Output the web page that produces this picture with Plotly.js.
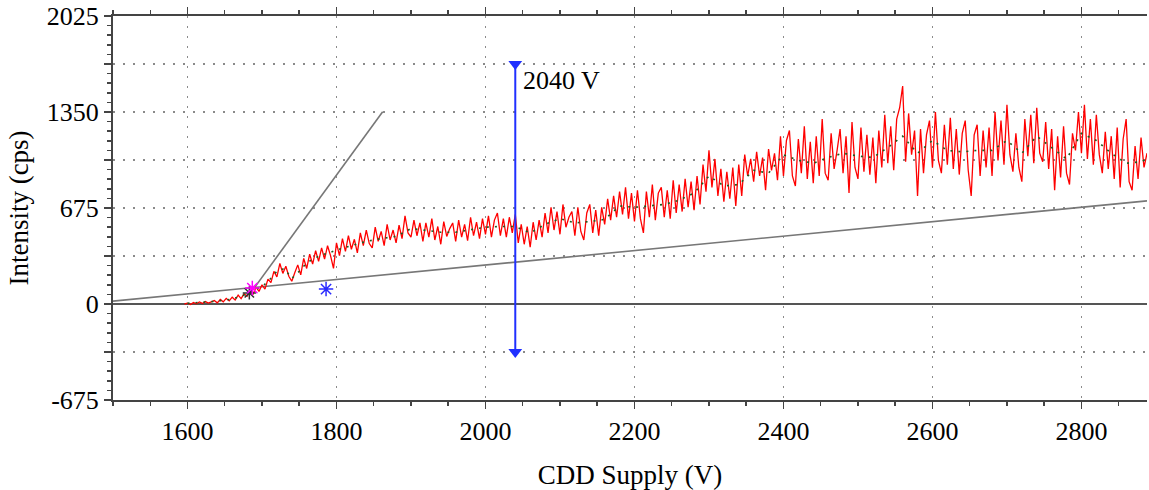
<!DOCTYPE html>
<html>
<head>
<meta charset="utf-8">
<script src="https://cdn.plot.ly/plotly-3.0.1.min.js"></script>
<style>html,body{margin:0;padding:0;background:#fff;}#chart{width:1149px;height:490px;}</style>
</head>
<body>
<div id="chart"></div>
<script>
// ---- data ----
const voltage = [
1596,1600,1604,1608,1612,1616,1620,1624,1628,1632,
1636,1640,1644,1648,1652,1656,1660,1664,1668,1672,
1676,1680,1684,1688,1692,1696,1700,1704,1708,1712,
1716,1720,1724,1728,1732,1736,1740,1744,1748,1752,
1756,1760,1764,1768,1772,1776,1780,1784,1788,1792,
1796,1800,1804,1808,1812,1816,1820,1824,1828,1832,
1836,1840,1844,1848,1852,1856,1860,1864,1868,1872,
1876,1880,1884,1888,1892,1896,1900,1904,1908,1912,
1916,1920,1924,1928,1932,1936,1940,1944,1948,1952,
1956,1960,1964,1968,1972,1976,1980,1984,1988,1992,
1996,2000,2004,2008,2012,2016,2020,2024,2028,2032,
2036,2040,2044,2048,2052,2056,2060,2064,2068,2072,
2076,2080,2084,2088,2092,2096,2100,2104,2108,2112,
2116,2120,2124,2128,2132,2136,2140,2144,2148,2152,
2156,2160,2164,2168,2172,2176,2180,2184,2188,2192,
2196,2200,2204,2208,2212,2216,2220,2224,2228,2232,
2236,2240,2244,2248,2252,2256,2260,2264,2268,2272,
2276,2280,2284,2288,2292,2296,2300,2304,2308,2312,
2316,2320,2324,2328,2332,2336,2340,2344,2348,2352,
2356,2360,2364,2368,2372,2376,2380,2384,2388,2392,
2396,2400,2404,2408,2412,2416,2420,2424,2428,2432,
2436,2440,2444,2448,2452,2456,2460,2464,2468,2472,
2476,2480,2484,2488,2492,2496,2500,2504,2508,2512,
2516,2520,2524,2528,2532,2536,2540,2544,2548,2552,
2556,2560,2564,2568,2572,2576,2580,2584,2588,2592,
2596,2600,2604,2608,2612,2616,2620,2624,2628,2632,
2636,2640,2644,2648,2652,2656,2660,2664,2668,2672,
2676,2680,2684,2688,2692,2696,2700,2704,2708,2712,
2716,2720,2724,2728,2732,2736,2740,2744,2748,2752,
2756,2760,2764,2768,2772,2776,2780,2784,2788,2792,
2796,2800,2804,2808,2812,2816,2820,2824,2828,2832,
2836,2840,2844,2848,2852,2856,2860,2864,2868,2872,
2876,2880,2884,2888];

const intensity = [
0,6,-4,10,1,14,4,17,6,13,
24,8,32,15,40,22,48,28,62,38,
72,55,90,70,118,88,135,105,175,150,
230,190,285,215,265,195,160,220,275,205,
320,250,350,280,375,300,395,315,410,340,
250,430,340,460,370,480,385,455,360,500,
410,520,425,395,540,440,510,410,560,450,
520,430,555,460,620,500,470,590,480,570,
440,570,470,600,450,545,420,580,475,530,
570,440,590,470,560,445,610,480,575,460,
600,490,620,470,590,640,480,600,470,610,
500,630,430,560,420,545,400,575,450,590,
470,640,500,680,520,650,490,700,540,610,
650,480,680,510,450,640,700,500,660,480,
680,560,740,590,760,610,790,630,820,600,
780,580,800,600,500,790,610,840,590,780,
820,610,800,600,870,640,840,650,880,680,
860,660,900,700,980,790,1080,820,1020,760,
950,720,930,740,960,690,980,760,1050,900,
1020,860,1070,900,1030,800,1090,940,1060,870,
1180,900,1150,1220,900,830,1160,920,1250,880,
1140,850,1180,900,1300,920,870,1200,950,1080,
1230,920,1180,780,1280,960,880,1240,930,1190,
910,1170,850,1220,960,1330,990,1250,940,1300,
1380,1533,1000,1340,1050,1220,760,1230,920,1190,
1290,960,1350,1010,920,1260,980,1310,950,1230,
910,1200,1290,940,760,1190,1260,900,1220,960,
1240,900,1350,1010,1290,980,1400,1050,930,1200,
960,860,1300,1040,1330,990,1380,1060,1000,1280,
950,1230,800,1180,890,1250,920,840,1200,1080,
1350,1060,1400,1020,1300,980,1330,1050,920,1210,
950,1180,880,1240,820,1160,1300,860,800,1110,
880,1170,960,1060];

// smoothed (dark green) curve
const smoothV = [1600,1620,1640,1660,1680,1690,1700,1710,1720,1730,1740,1750,1760,1770,1780,1790,1800,1820,1840,1860,1880,1900,1920,1940,1960,1980,2000,2020,2040,2060,2080,2100,2120,2140,2160,2180,2200,2220,2240,2260,2280,2300,2320,2340,2360,2380,2400,2420,2440,2460,2480,2500,2520,2540,2560,2580,2600,2620,2640,2660,2680,2700,2720,2740,2760,2780,2800,2820,2840,2860,2880,2888];
const smoothI = [5,10,20,35,70,100,120,170,230,250,180,230,290,320,345,360,380,410,440,460,475,530,515,505,505,525,540,545,545,500,560,600,570,580,595,690,680,690,700,730,780,900,830,840,940,920,1050,1010,990,1030,1060,1040,1030,1100,1180,1060,1150,1080,1070,1080,1080,1150,1060,1180,1100,1020,1200,1150,1060,990,1000,1020];

// straight fit lines (end points)
const fitLowV = [1500, 2888];
const fitLowI = [20, 725];
const fitHighV = [1690, 1862];
const fitHighI = [116, 1352];

// marker points
const onsetV = [1687];  const onsetI = [112];
const onset2V = [1683]; const onset2I = [78];
const blueV = [1786];   const blueI = [105];

// operating voltage arrow
const arrowV = [2040, 2040];
const arrowI = [-337.5, 1687.5];
const arrowLabel = '2040 V';

// axes
const xTickVals = [1600, 1800, 2000, 2200, 2400, 2600, 2800];
const xTickText = ['1600', '1800', '2000', '2200', '2400', '2600', '2800'];
const yTickVals = [-675, -337.5, 0, 337.5, 675, 1012.5, 1350, 1687.5, 2025];
const yTickText = ['-675', '', '0', '', '675', '', '1350', '', '2025'];
const xTitle = 'CDD Supply (V)';
const yTitle = 'Intensity (cps)';

const FONT = '"Liberation Serif", "Times New Roman", serif';
const axisCol = '#444';

const traces = [
  {x: fitLowV, y: fitLowI, mode: 'lines', line: {color: '#777', width: 1.6}, hoverinfo: 'skip'},
  {x: fitHighV, y: fitHighI, mode: 'lines', line: {color: '#777', width: 1.6}, hoverinfo: 'skip'},
  {x: voltage, y: intensity, mode: 'lines', line: {color: '#ff0000', width: 1.3}},
  {x: smoothV, y: smoothI, mode: 'lines', line: {color: '#1f5a1f', width: 1.6, dash: '2px,6px'}},
  {x: onset2V, y: onset2I, mode: 'markers', marker: {symbol: 'asterisk-open', size: 11, color: '#333', line: {color: '#333', width: 1.5}}},
  {x: onsetV, y: onsetI, mode: 'markers', marker: {symbol: 'asterisk-open', size: 12, color: '#ff00ff', line: {color: '#ff00ff', width: 1.5}}},
  {x: blueV, y: blueI, mode: 'markers', marker: {symbol: 'asterisk-open', size: 12, color: '#2a2aff', line: {color: '#2a2aff', width: 1.5}}},
  {x: arrowV, y: arrowI, mode: 'lines+markers', line: {color: '#2030ff', width: 2},
   marker: {symbol: 'triangle-down', size: 12, color: '#2030ff'}}
];

const layout = {
  width: 1149, height: 490,
  margin: {l: 113, r: 2, t: 16, b: 90},
  paper_bgcolor: '#fff', plot_bgcolor: '#fff',
  showlegend: false,
  font: {family: FONT, color: '#000', size: 26},
  xaxis: {
    range: [1500, 2888], tickmode: 'array', tickvals: xTickVals, ticktext: xTickText,
    showgrid: true, griddash: '2px,8px', gridcolor: '#8a8a8a', gridwidth: 1.2,
    zeroline: false, showline: true, linecolor: axisCol, linewidth: 2, mirror: 'allticks',
    ticks: 'outside', ticklen: 7, tickwidth: 1.5, tickcolor: axisCol,
    minor: {tickmode: 'linear', tick0: 1500, dtick: 50, ticks: 'outside', ticklen: 4, tickwidth: 1.5, tickcolor: axisCol, showgrid: false},
    tickfont: {family: FONT, size: 26, color: '#000'},
    title: {text: xTitle, font: {family: FONT, size: 27, color: '#000'}, standoff: 23},
    automargin: false
  },
  yaxis: {
    range: [-675, 2025], tickmode: 'array', tickvals: yTickVals, ticktext: yTickText,
    showgrid: true, griddash: '2px,8px', gridcolor: '#8a8a8a', gridwidth: 1.2,
    zeroline: true, zerolinecolor: '#555', zerolinewidth: 2,
    showline: true, linecolor: axisCol, linewidth: 2, mirror: false,
    ticks: 'outside', ticklen: 7, tickwidth: 1.5, tickcolor: axisCol,
    minor: {tickmode: 'linear', tick0: 0, dtick: 67.5, ticks: 'outside', ticklen: 4, tickwidth: 1.5, tickcolor: axisCol, showgrid: false},
    tickfont: {family: FONT, size: 26, color: '#000'},
    title: {text: yTitle, font: {family: FONT, size: 27, color: '#000'}, standoff: 10},
    automargin: false
  },
  annotations: [{
    x: arrowV[1], y: 1575, xref: 'x', yref: 'y', text: arrowLabel, showarrow: false,
    xanchor: 'left', yanchor: 'middle', xshift: 6,
    font: {family: FONT, size: 26, color: '#000'}
  }]
};

Plotly.newPlot('chart', traces, layout, {staticPlot: true, displayModeBar: false});
</script>
</body>
</html>
